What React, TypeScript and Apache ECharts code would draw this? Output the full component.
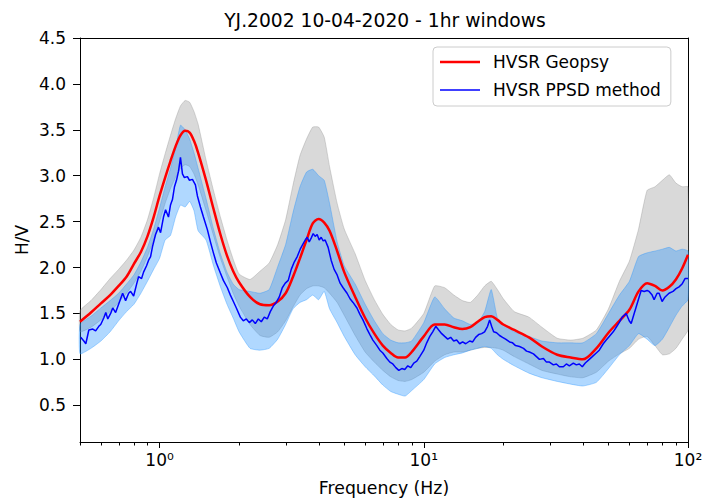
import React, { useEffect, useRef } from "react";
import * as echarts from "echarts";

const chartTitle = "YJ.2002 10-04-2020 - 1hr windows";
const xLabel = "Frequency (Hz)";
const yLabel = "H/V";
const geopsyName = "HVSR Geopsy";
const ppsdName = "HVSR PPSD method";

const xRange = [0.5, 100];
const yRange = [0.1, 4.5];
const xMajorTicks = [1, 10, 100];
const xMajorLabels = ["10\u2070", "10\u00b9", "10\u00b2"];
const xMinorTicks = [0.5, 0.6, 0.7, 0.8, 0.9, 2, 3, 4, 5, 6, 7, 8, 9, 20, 30, 40, 50, 60, 70, 80, 90];
const yTicks = [0.5, 1.0, 1.5, 2.0, 2.5, 3.0, 3.5, 4.0, 4.5];

// Geopsy curve and bands sampled at these frequencies (Hz)
const bandFreq = [
  0.5, 0.55, 0.6, 0.65, 0.7, 0.75, 0.8, 0.85, 0.9, 0.95,
  1.0, 1.05, 1.1, 1.15, 1.2, 1.25, 1.3, 1.35, 1.4, 1.5,
  1.6, 1.7, 1.8, 1.9, 2.0, 2.2, 2.4, 2.6, 2.8, 3.0,
  3.2, 3.4, 3.6, 3.8, 4.0, 4.2, 4.4, 4.7, 5.0, 5.5,
  6.0, 6.5, 7.0, 7.5, 8.0, 8.5, 9.0, 10, 11, 12,
  13, 14, 15, 16, 17, 18, 19, 20, 22, 25,
  28, 32, 36, 40, 45, 50, 55, 60, 65, 70,
  75, 80, 85, 90, 95, 100,
];
const geopsyMean = [
  1.41, 1.51, 1.61, 1.70, 1.80, 1.90, 2.04, 2.17, 2.34, 2.55,
  2.78, 2.98, 3.16, 3.32, 3.44, 3.49, 3.47, 3.38, 3.25, 2.95,
  2.64, 2.36, 2.13, 1.96, 1.84, 1.68, 1.60, 1.59, 1.63, 1.72,
  1.90, 2.10, 2.30, 2.48, 2.53, 2.49, 2.40, 2.18, 1.95, 1.68,
  1.45, 1.28, 1.15, 1.07, 1.02, 1.02, 1.08, 1.25, 1.38, 1.38,
  1.35, 1.33, 1.35, 1.41, 1.46, 1.47, 1.43, 1.38, 1.32, 1.24,
  1.14, 1.05, 1.02, 1.00, 1.12, 1.29, 1.42, 1.54, 1.74, 1.83,
  1.80, 1.75, 1.79, 1.87, 1.99, 2.14,
];
const geopsyUpper = [
  1.53, 1.64, 1.76, 1.88, 1.98, 2.08, 2.19, 2.33, 2.52, 2.76,
  3.02, 3.24, 3.44, 3.62, 3.76, 3.82, 3.80, 3.70, 3.56, 3.17,
  2.84, 2.55, 2.30, 2.09, 1.93, 1.87, 1.96, 2.05, 2.25, 2.52,
  2.90, 3.22, 3.40, 3.53, 3.53, 3.42, 3.10, 2.70, 2.42, 2.15,
  1.86, 1.65, 1.49, 1.38, 1.32, 1.31, 1.34, 1.50, 1.80, 1.78,
  1.70, 1.64, 1.62, 1.70, 1.80, 1.85, 1.76, 1.66, 1.52, 1.46,
  1.35, 1.23, 1.21, 1.23, 1.32, 1.55, 1.85, 2.07, 2.42, 2.84,
  2.88, 2.95, 3.01, 2.92, 2.88, 2.88,
];
const geopsyLower = [
  1.30, 1.35, 1.43, 1.52, 1.62, 1.72, 1.83, 1.96, 2.12, 2.30,
  2.50, 2.70, 2.86, 2.98, 3.08, 3.12, 3.10, 3.02, 2.90, 2.62,
  2.35, 2.10, 1.90, 1.72, 1.58, 1.38, 1.26, 1.24, 1.30, 1.42,
  1.57, 1.70, 1.77, 1.80, 1.80, 1.78, 1.72, 1.62, 1.48, 1.26,
  1.08, 0.97, 0.88, 0.81, 0.77, 0.76, 0.78, 0.86, 0.98, 1.05,
  1.08, 1.08, 1.10, 1.12, 1.13, 1.13, 1.12, 1.10, 1.03, 0.95,
  0.88, 0.84, 0.81, 0.80, 0.86, 0.98, 1.06, 1.12, 1.22, 1.25,
  1.15, 1.05, 1.06, 1.12, 1.22, 1.32,
];
const ppsdUpper = [
  1.38, 1.47, 1.56, 1.64, 1.72, 1.82, 1.92, 2.06, 2.22, 2.42,
  2.65, 2.88, 3.08, 3.30, 3.55, 3.50, 3.40, 3.25, 3.08, 2.75,
  2.42, 2.15, 1.95, 1.82, 1.76, 1.74, 1.72, 1.76, 2.01, 2.25,
  2.60, 2.88, 3.04, 3.07, 3.00, 2.95, 2.70, 2.28, 2.02, 1.82,
  1.60, 1.42, 1.28, 1.21, 1.18, 1.18, 1.20, 1.40, 1.68, 1.55,
  1.45, 1.42, 1.38, 1.40, 1.52, 1.76, 1.45, 1.38, 1.30, 1.25,
  1.20, 1.18, 1.18, 1.18, 1.28, 1.50, 1.70, 1.85, 2.12, 2.16,
  2.18, 2.20, 2.22, 2.18, 2.20, 2.18,
];
const ppsdLower = [
  1.06, 1.12, 1.20, 1.30, 1.42, 1.52, 1.60, 1.72, 1.85, 1.98,
  2.10, 2.30, 2.35, 2.55, 2.68, 2.66, 2.72, 2.62, 2.40, 2.30,
  2.02, 1.79, 1.60, 1.45, 1.30, 1.12, 1.10, 1.12, 1.22, 1.38,
  1.55, 1.62, 1.65, 1.70, 1.65, 1.74, 1.55, 1.40, 1.25, 1.05,
  0.92, 0.82, 0.72, 0.65, 0.62, 0.60, 0.66, 0.78, 0.95, 1.02,
  1.05, 1.07, 1.10, 1.12, 1.14, 1.12, 1.05, 1.00, 0.93, 0.85,
  0.80, 0.76, 0.73, 0.71, 0.75, 0.90, 1.05, 1.15, 1.28, 1.22,
  1.15, 1.22, 1.35, 1.48, 1.58, 1.65,
];

// PPSD method curve
const ppsdFreq = [
  0.503, 0.517, 0.526, 0.540, 0.559, 0.573, 0.589, 0.599, 0.615, 0.626,
  0.637, 0.653, 0.665, 0.682, 0.700, 0.725, 0.744, 0.764, 0.777, 0.798,
  0.819, 0.833, 0.855, 0.870, 0.893, 0.909, 0.925, 0.941, 0.966, 0.991,
  1.009, 1.035, 1.054, 1.081, 1.100, 1.119, 1.139, 1.159, 1.180, 1.200,
  1.221, 1.242, 1.275, 1.298, 1.332, 1.367, 1.391, 1.428, 1.466, 1.518,
  1.558, 1.599, 1.641, 1.699, 1.744, 1.806, 1.854, 1.903, 1.953, 2.022,
  2.075, 2.130, 2.187, 2.244, 2.304, 2.365, 2.427, 2.491, 2.557, 2.625,
  2.694, 2.765, 2.839, 2.914, 2.991, 3.070, 3.151, 3.234, 3.320, 3.407,
  3.497, 3.559, 3.621, 3.685, 3.749, 3.815, 3.882, 3.950, 4.019, 4.090,
  4.161, 4.234, 4.346, 4.461, 4.579, 4.700, 4.824, 4.951, 5.124, 5.259,
  5.398, 5.586, 5.733, 5.885, 6.099, 6.253, 6.418, 6.645, 6.820, 7.000,
  7.248, 7.440, 7.636, 7.838, 8.045, 8.258, 8.476, 8.700, 8.929, 9.165,
  9.408, 9.656, 10.00, 10.26, 10.54, 10.81, 11.10, 11.39, 11.69, 12.00,
  12.32, 12.64, 12.98, 13.32, 13.67, 14.03, 14.41, 14.92, 15.31, 15.71,
  16.13, 16.56, 16.99, 17.44, 17.75, 18.06, 18.38, 18.86, 19.36, 19.87,
  20.40, 21.12, 21.68, 22.25, 23.04, 23.85, 24.48, 25.12, 26.01, 26.70,
  27.40, 28.37, 29.12, 29.89, 30.94, 31.76, 32.60, 33.75, 34.65, 35.56,
  36.82, 37.79, 38.79, 39.81, 40.86, 42.31, 43.43, 44.96, 46.15, 47.78,
  49.04, 50.34, 52.12, 53.50, 54.91, 56.36, 58.35, 59.90, 60.95, 62.56,
  63.65, 65.34, 66.48, 68.24, 70.04, 71.27, 73.15, 74.43, 76.40, 77.74,
  79.79, 81.90, 84.76, 87.78, 90.10, 92.49, 94.93, 97.44, 100.0,
];
const ppsdMean = [
  1.24, 1.20, 1.17, 1.32, 1.33, 1.31, 1.36, 1.38, 1.45, 1.51,
  1.44, 1.50, 1.56, 1.51, 1.60, 1.72, 1.64, 1.72, 1.74, 1.69,
  1.82, 1.90, 1.88, 1.95, 2.02, 2.08, 2.12, 2.23, 2.36, 2.44,
  2.38, 2.55, 2.63, 2.55, 2.68, 2.74, 2.88, 2.95, 3.05, 3.20,
  3.02, 2.98, 2.99, 2.95, 2.96, 2.90, 2.78, 2.66, 2.55, 2.41,
  2.28, 2.16, 2.05, 1.94, 1.86, 1.78, 1.70, 1.63, 1.56, 1.46,
  1.42, 1.44, 1.40, 1.43, 1.39, 1.44, 1.41, 1.46, 1.44, 1.52,
  1.58, 1.62, 1.68, 1.78, 1.83, 1.86, 1.98, 2.06, 2.12, 2.20,
  2.26, 2.30, 2.33, 2.28, 2.32, 2.37, 2.34, 2.36, 2.30, 2.33,
  2.29, 2.30, 2.22, 2.08, 1.98, 1.92, 1.83, 1.78, 1.72, 1.66,
  1.62, 1.56, 1.49, 1.43, 1.33, 1.27, 1.21, 1.15, 1.10, 1.07,
  1.01, 0.97, 0.95, 0.91, 0.88, 0.90, 0.89, 0.93, 0.91, 0.96,
  0.98, 1.03, 1.10, 1.18, 1.25, 1.30, 1.36, 1.32, 1.28, 1.25,
  1.22, 1.24, 1.20, 1.21, 1.17, 1.19, 1.17, 1.20, 1.19, 1.24,
  1.27, 1.28, 1.30, 1.36, 1.43, 1.36, 1.30, 1.29, 1.26, 1.24,
  1.22, 1.19, 1.18, 1.15, 1.14, 1.12, 1.09, 1.08, 1.06, 1.03,
  1.00, 1.01, 0.97, 0.97, 0.94, 0.95, 0.92, 0.92, 0.95, 0.93,
  0.96, 0.94, 0.95, 0.92, 0.96, 1.00, 1.03, 1.07, 1.10, 1.17,
  1.21, 1.25, 1.30, 1.35, 1.40, 1.46, 1.50, 1.42, 1.39, 1.50,
  1.57, 1.68, 1.75, 1.74, 1.75, 1.74, 1.70, 1.65, 1.72, 1.72,
  1.63, 1.68, 1.72, 1.74, 1.77, 1.79, 1.82, 1.88, 1.88,
];

const FONT = "DejaVu Sans";

function bandSeries(name: string, upper: number[], lower: number[], fill: string, z: number) {
  return {
    type: "custom",
    name,
    silent: true,
    z,
    xAxisIndex: 0,
    yAxisIndex: 0,
    data: [[bandFreq[0], lower[0]]],
    renderItem: (params: any, api: any) => {
      if (params.dataIndex !== 0) return null;
      const pts: number[][] = [];
      for (let i = 0; i < bandFreq.length; i++) pts.push(api.coord([bandFreq[i], upper[i]]));
      for (let i = bandFreq.length - 1; i >= 0; i--) pts.push(api.coord([bandFreq[i], lower[i]]));
      return {
        type: "polygon",
        shape: { points: pts, smooth: 0.15 },
        style: { fill, stroke: fill, lineWidth: 1 },
      };
    },
  };
}

export default function App() {
  const ref = useRef<HTMLDivElement>(null);
  useEffect(() => {
    document.body.style.margin = "0";
    if (!ref.current) return;
    const chart = echarts.init(ref.current, undefined, { renderer: "svg" });
    const labelFor = (v: number) => {
      for (let i = 0; i < xMajorTicks.length; i++) {
        if (Math.abs(xMajorTicks[i] - v) < 1e-6 * xMajorTicks[i]) return xMajorLabels[i];
      }
      return "";
    };
    chart.setOption({
      animation: false,
      backgroundColor: "#ffffff",
      grid: { left: 80, right: 18, top: 38, bottom: 59, containLabel: false },
      xAxis: [
        {
          type: "log",
          logBase: 10,
          min: xRange[0],
          max: xRange[1],
          position: "bottom",
          axisLine: { show: true, onZero: false, lineStyle: { color: "#000", width: 1 } },
          axisTick: { show: true, length: 6, customValues: xMajorTicks, lineStyle: { color: "#000", width: 1 } },
          axisLabel: {
            customValues: xMajorTicks,
            formatter: (v: number) => labelFor(v),
            fontFamily: FONT,
            fontSize: 17,
            color: "#000",
            margin: 9,
          },
          splitLine: { show: false },
          minorTick: { show: false },
        },
        {
          type: "log",
          logBase: 10,
          min: xRange[0],
          max: xRange[1],
          position: "top",
          axisLine: { show: true, onZero: false, lineStyle: { color: "#000", width: 1 } },
          axisTick: { show: false },
          axisLabel: { show: false },
          splitLine: { show: false },
        },
      ],
      yAxis: [
        {
          type: "value",
          min: yRange[0],
          max: yRange[1],
          position: "left",
          axisLine: { show: true, onZero: false, lineStyle: { color: "#000", width: 1 } },
          axisTick: { show: true, length: 7, customValues: yTicks, lineStyle: { color: "#000", width: 1 } },
          axisLabel: {
            customValues: yTicks,
            formatter: (v: number) => v.toFixed(1),
            fontFamily: FONT,
            fontSize: 17,
            color: "#000",
            margin: 14,
          },
          splitLine: { show: false },
        },
        {
          type: "value",
          min: yRange[0],
          max: yRange[1],
          position: "right",
          axisLine: { show: true, onZero: false, lineStyle: { color: "#000", width: 1 } },
          axisTick: { show: false },
          axisLabel: { show: false },
          splitLine: { show: false },
        },
      ],
      legend: {
        data: [
          { name: geopsyName, icon: "path://M0 0H40V2.6H0Z" },
          { name: ppsdName, icon: "path://M0 0H40V1.6H0Z" },
        ],
        orient: "vertical",
        left: 433,
        top: 47,
        padding: [5, 10, 6, 7],
        itemGap: 8,
        itemWidth: 40,
        itemHeight: 3,
        symbolKeepAspect: true,
        selectedMode: false,
        textStyle: { fontFamily: FONT, fontSize: 17, color: "#000", lineHeight: 20, padding: [0, 0, 0, 8] },
        backgroundColor: "rgba(255,255,255,0.8)",
        borderColor: "#cccccc",
        borderWidth: 1,
        borderRadius: 4,
      },
      graphic: [
        {
          type: "text",
          x: 385,
          y: 20,
          style: { text: chartTitle, fontFamily: FONT, fontSize: 18.7, fill: "#000", align: "center", verticalAlign: "middle" },
        },
        {
          type: "text",
          x: 384,
          y: 488,
          style: { text: xLabel, fontFamily: FONT, fontSize: 17.3, fill: "#000", align: "center", verticalAlign: "middle" },
        },
        {
          type: "text",
          x: 22,
          y: 240,
          rotation: Math.PI / 2,
          style: { text: yLabel, fontFamily: FONT, fontSize: 17, fill: "#000", align: "center", verticalAlign: "middle" },
        },
      ],
      series: [
        bandSeries("Geopsy std", geopsyUpper, geopsyLower, "rgba(128,128,128,0.3)", 1),
        bandSeries("PPSD range", ppsdUpper, ppsdLower, "rgba(30,144,255,0.35)", 2),
        {
          type: "line",
          name: geopsyName,
          xAxisIndex: 0,
          yAxisIndex: 0,
          data: bandFreq.map((f, i) => [f, geopsyMean[i]]),
          symbol: "none",
          showSymbol: false,
          smooth: 0.3,
          z: 3,
          lineStyle: { color: "#ff0000", width: 2.5 },
          itemStyle: { color: "#ff0000" },
        },
        {
          type: "line",
          name: ppsdName,
          xAxisIndex: 0,
          yAxisIndex: 0,
          data: ppsdFreq.map((f, i) => [f, ppsdMean[i]]),
          symbol: "none",
          showSymbol: false,
          z: 4,
          lineStyle: { color: "#0000ff", width: 1.5 },
          itemStyle: { color: "#0000ff" },
        },
        {
          type: "custom",
          name: "minor ticks",
          silent: true,
          z: 10,
          clip: false,
          xAxisIndex: 0,
          yAxisIndex: 0,
          data: xMinorTicks.map((v) => [v, yRange[0]]),
          renderItem: (params: any, api: any) => {
            const p = api.coord([api.value(0), api.value(1)]);
            const x = Math.round(p[0]) + 0.5;
            return {
              type: "line",
              shape: { x1: x, y1: p[1], x2: x, y2: p[1] + 3.5 },
              style: { stroke: "#000", lineWidth: 1 },
            };
          },
        },
      ],
    });
    return () => chart.dispose();
  }, []);
  return <div ref={ref} style={{ width: 706, height: 501 }} />;
}
